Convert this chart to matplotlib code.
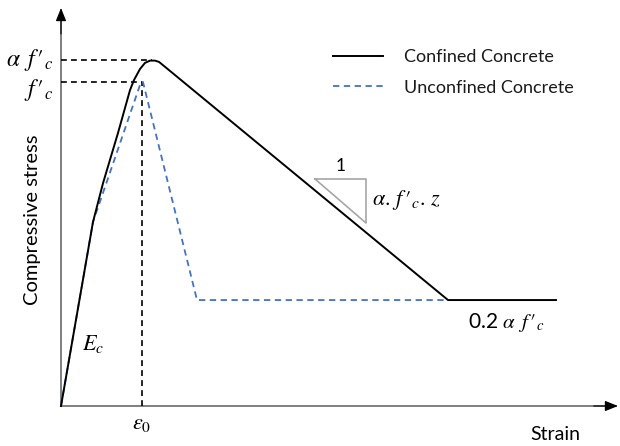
import matplotlib
matplotlib.use("Agg")
import matplotlib.pyplot as plt

# ---- data (strain normalised by eps0, stress normalised by f'c) ----
confined_strain = [0.0, 0.395, 0.519, 0.704, 0.852, 0.901, 0.975, 1.037, 1.099, 1.160, 1.210, 1.259, 4.778, 6.111]
confined_stress = [0.0, 0.568, 0.688, 0.843, 0.975, 1.006, 1.040, 1.059, 1.066, 1.066, 1.062, 1.052, 0.327, 0.327]
unconfined_strain = [0.0, 0.395, 0.988, 1.012, 1.679, 4.778]
unconfined_stress = [0.0, 0.568, 1.000, 1.000, 0.327, 0.327]
eps0 = 1.0
fc = 1.0
alpha_fc = 1.068
peak_strain = 1.12
labels = ["Confined Concrete", "Unconfined Concrete"]

plt.rcParams['font.family'] = ['Lato', 'DejaVu Sans']
plt.rcParams['mathtext.fontset'] = 'stix'

W, H = 620, 446
fig = plt.figure(figsize=(W / 100, H / 100), dpi=100)
ax = fig.add_axes([0, 0, 1, 1])
ox, oy, sx, sy = 61, 406, 81.0, 324.0
ax.set_xlim((0 - ox) / sx, (W - ox) / sx)
ax.set_ylim((oy - H) / sy, (oy - 0) / sy)
ax.axis('off')

def P(x, y):
    return ((x - ox) / sx, (oy - y) / sy)

blue = '#4472C4'
# axes with arrows
xtip = P(618, 406)
ytip = P(61, 8)
ax.plot([0, xtip[0] - 0.05], [0, 0], color='#7f7f7f', lw=1.4, zorder=1)
ax.plot([0, 0], [0, ytip[1] - 0.02], color='#7f7f7f', lw=1.4, zorder=1)
ax.annotate("", xy=xtip, xytext=(xtip[0] - 0.3, 0),
            arrowprops=dict(arrowstyle='-|>,head_length=0.8,head_width=0.32', color='black', lw=0.8, shrinkA=0, shrinkB=0))
ax.annotate("", xy=ytip, xytext=(0, ytip[1] - 0.08),
            arrowprops=dict(arrowstyle='-|>,head_length=0.8,head_width=0.32', color='black', lw=0.8, shrinkA=0, shrinkB=0))

# reference dashed lines
ax.plot([0, peak_strain], [alpha_fc, alpha_fc], color='black', lw=1.2, dashes=(3.5, 2.5), zorder=2)
ax.plot([0, eps0], [fc, fc], color='black', lw=1.2, dashes=(3.5, 2.5), zorder=2)
ax.plot([eps0, eps0], [0, fc], color='black', lw=1.2, dashes=(3.5, 2.5), zorder=2)

# curves
l2, = ax.plot(unconfined_strain, unconfined_stress, color=blue, lw=1.3, dashes=(3.5, 2.5), label=labels[1], zorder=3)
l1, = ax.plot(confined_strain, confined_stress, color='black', lw=1.4, label=labels[0], zorder=4,
              solid_joinstyle='round')

leg = ax.legend(handles=[l1, l2], loc='upper left', bbox_to_anchor=(333 / W, 1 - 49 / H),
                frameon=False, fontsize=13, handlelength=2.75, handletextpad=1.2,
                labelspacing=0.82, borderpad=0, borderaxespad=0)
for t in leg.get_texts():
    t.set_color('#1a1a1a')

prime = r"f\,{\prime}_{c}"
# slope triangle
tri = [P(315, 179), P(366, 179), P(366, 223), P(315, 179)]
ax.plot([p[0] for p in tri], [p[1] for p in tri], color='#a6a6a6', lw=1.2, zorder=2)
ax.text(*P(341, 166), "1", fontsize=12.5, ha='center', va='center')
ax.text(*P(372, 200), r"$\alpha.\," + prime + r".\,z$", fontsize=16, ha='left', va='center')

# labels
ax.text(*P(53, 60), r"$\alpha\ \," + prime + "$", fontsize=17, ha='right', va='center')
ax.text(*P(53, 90), r"$" + prime + "$", fontsize=17, ha='right', va='center')
ax.text(*P(93, 344), r"$E_c$", fontsize=16, ha='center', va='center')
ax.text(*P(142, 424), r"$\varepsilon_0$", fontsize=16, ha='center', va='center')
ax.text(*P(468, 323), r"0.2 $\alpha\ \," + prime + "$", fontsize=15, ha='left', va='center')
ax.text(*P(555, 435), "Strain", fontsize=14, ha='center', va='center')
ax.text(*P(33, 220), "Compressive stress", fontsize=14.5, ha='center', va='center', rotation=90)

fig.savefig("out.png", dpi=100)
